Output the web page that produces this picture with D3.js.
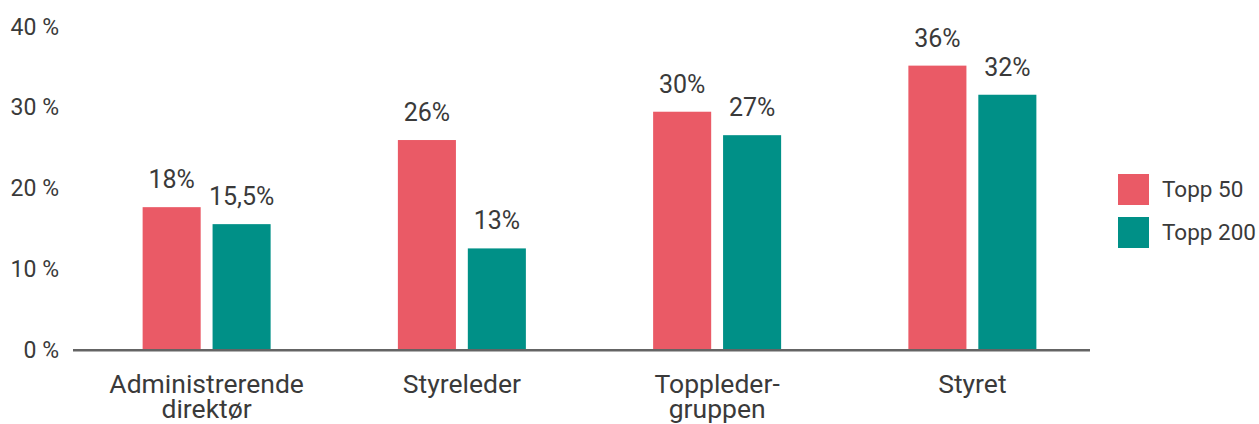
<!DOCTYPE html>
<html>
<head>
<meta charset="utf-8">
<script src="https://cdn.jsdelivr.net/npm/d3@7"></script>
<style>
  body { margin: 0; background: #fff; }
  svg text { font-family: Roboto, "Noto Sans", sans-serif; fill: #3a3a3a; }
</style>
</head>
<body>
<svg id="chart" width="1259" height="424"></svg>
<script>
var categories = [["Administrerende", "direktør"], ["Styreleder"], ["Toppleder-", "gruppen"], ["Styret"]];
var seriesNames = ["Topp 50", "Topp 200"];
var topp50 = [17.6, 25.9, 29.4, 35.1];
var topp200 = [15.5, 12.5, 26.5, 31.5];
var topp50Labels = ["18%", "26%", "30%", "36%"];
var topp200Labels = ["15,5%", "13%", "27%", "32%"];
var yTicks = [0, 10, 20, 30, 40];
var colors = ["#ea5a66", "#009087"];

(function () {
    var svg = d3.select("#chart");
    var keys = categories.map(function (c) { return c.join(" "); });

    var x = d3.scaleBand().domain(keys).range([79, 1100]).padding(0);
    var bw = x.bandwidth();
    var inner = d3.scaleBand().domain(seriesNames)
        .range([bw / 2 - 64, bw / 2 + 64])
        .paddingInner(0.17).paddingOuter(0);
    var y = d3.scaleLinear().domain([0, 40]).range([349.5, 26]);

    var values = [topp50, topp200];
    var labels = [topp50Labels, topp200Labels];

    // y axis labels only
    var yAxis = svg.append("g")
        .attr("transform", "translate(59,0)")
        .call(d3.axisLeft(y).tickValues(yTicks).tickSize(0).tickPadding(0)
            .tickFormat(function (d) { return d + " %"; }));
    yAxis.select(".domain").remove();
    yAxis.selectAll("text")
        .attr("font-size", "23px")
        .attr("font-family", null)
        .attr("fill", "#3a3a3a")
        .attr("dy", "0.35em");

    // bars
    seriesNames.forEach(function (s, si) {
        var g = svg.append("g");
        g.selectAll("rect")
            .data(values[si])
            .enter().append("rect")
            .attr("x", function (d, i) { return x(keys[i]) + inner(s); })
            .attr("y", function (d) { return y(d); })
            .attr("width", inner.bandwidth())
            .attr("height", function (d) { return y(0) - y(d); })
            .attr("fill", colors[si]);
        g.selectAll("text")
            .data(values[si])
            .enter().append("text")
            .attr("x", function (d, i) { return x(keys[i]) + inner(s) + inner.bandwidth() / 2; })
            .attr("y", function (d) { return y(d) - 19; })
            .attr("text-anchor", "middle")
            .attr("font-size", "25px")
            .text(function (d, i) { return labels[si][i]; });
    });

    // baseline
    svg.append("line")
        .attr("x1", 73).attr("x2", 1090)
        .attr("y1", y(0) + 0.8).attr("y2", y(0) + 0.8)
        .attr("stroke", "#646464")
        .attr("stroke-width", 2.5);

    // category labels
    var cat = svg.append("g");
    categories.forEach(function (lines, i) {
        var t = cat.append("text")
            .attr("x", x(keys[i]) + bw / 2)
            .attr("y", 393)
            .attr("text-anchor", "middle")
            .attr("font-size", "26.5px");
        lines.forEach(function (l, j) {
            t.append("tspan")
                .attr("x", x(keys[i]) + bw / 2)
                .attr("dy", j === 0 ? 0 : 25)
                .text(l);
        });
    });

    // legend
    var legend = svg.append("g").attr("transform", "translate(1118,174)");
    seriesNames.forEach(function (s, i) {
        var row = legend.append("g").attr("transform", "translate(0," + (i * 43) + ")");
        row.append("rect").attr("width", 31).attr("height", 31).attr("fill", colors[i]);
        row.append("text")
            .attr("x", 44).attr("y", 15.5)
            .attr("dy", "0.35em")
            .attr("font-size", "22.5px")
            .text(s);
    });
})();
</script>
</body>
</html>
